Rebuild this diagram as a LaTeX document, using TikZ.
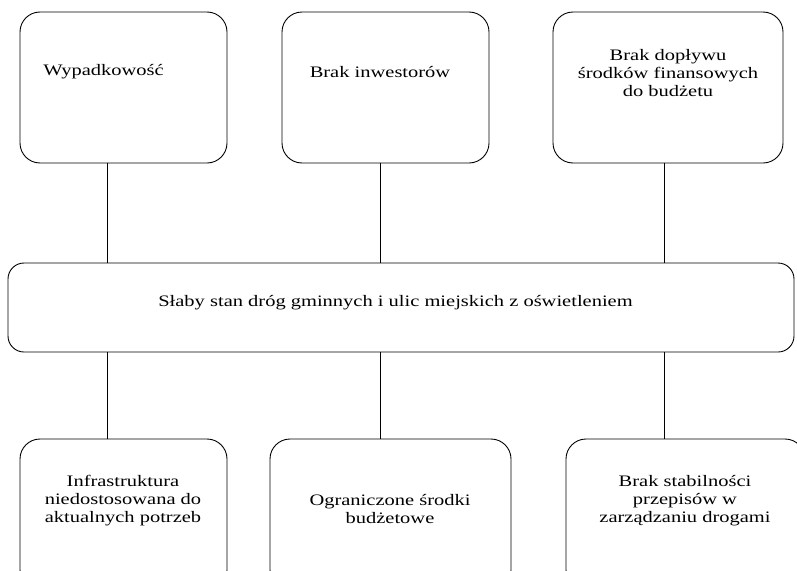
\documentclass[tikz,border=0pt]{standalone}
\usepackage{fontspec}
\setmainfont[FakeStretch=1.28]{Liberation Serif}
\begin{document}
\begin{tikzpicture}[x=1pt,y=-1pt,
  box/.style={draw, line width=0.9pt, rounded corners=20pt, inner sep=0pt},
  txt/.style={align=center, inner sep=0pt, font=\fontsize{16}{18}\selectfont},
  conn/.style={line width=0.8pt}]
\clip (0,0) rectangle (797,570);
\fill[white] (0,0) rectangle (797,570);
% boxes
\node[box, minimum width=207pt, minimum height=151pt] (T1) at (123.5,87.5) {};
\node[box, minimum width=207pt, minimum height=151pt] (T2) at (385.5,87.5) {};
\node[box, minimum width=230pt, minimum height=151pt] (T3) at (668,87.5) {};
\node[box, rounded corners=16pt, minimum width=786pt, minimum height=89pt] (M) at (401,307.5) {};
\node[box, minimum width=207pt, minimum height=151pt] (B1) at (123.5,514.5) {};
\node[box, minimum width=241pt, minimum height=151pt] (B2) at (390.5,514.5) {};
\node[box, minimum width=239pt, minimum height=151pt] (B3) at (685.5,514.5) {};
% texts
\node[txt] (T1t) at (103.5,72) {Wypadkowość};
\node[txt] (T2t) at (380,72) {Brak inwestorów};
\node[txt] (T3t) at (668,73) {Brak dopływu\\środków finansowych\\do budżetu};
\node[txt] (Mt) at (395.5,303) {Słaby stan dróg gminnych i ulic miejskich z oświetleniem};
\node[txt] (B1t) at (123,501) {Infrastruktura\\niedostosowana do\\aktualnych potrzeb};
\node[txt] (B2t) at (390,509) {Ograniczone środki\\budżetowe};
\node[txt] (B3t) at (685,501) {Brak stabilności\\przepisów w\\zarządzaniu drogami};
% connector x positions
\coordinate (L1) at (107,0);
\coordinate (L2) at (380,0);
\coordinate (L3) at (664,0);
\draw[conn] (T1.south -| L1) -- (M.north -| L1);
\draw[conn] (T2.south -| L2) -- (M.north -| L2);
\draw[conn] (T3.south -| L3) -- (M.north -| L3);
\draw[conn] (M.south -| L1) -- (B1.north -| L1);
\draw[conn] (M.south -| L2) -- (B2.north -| L2);
\draw[conn] (M.south -| L3) -- (B3.north -| L3);
\end{tikzpicture}
\end{document}
